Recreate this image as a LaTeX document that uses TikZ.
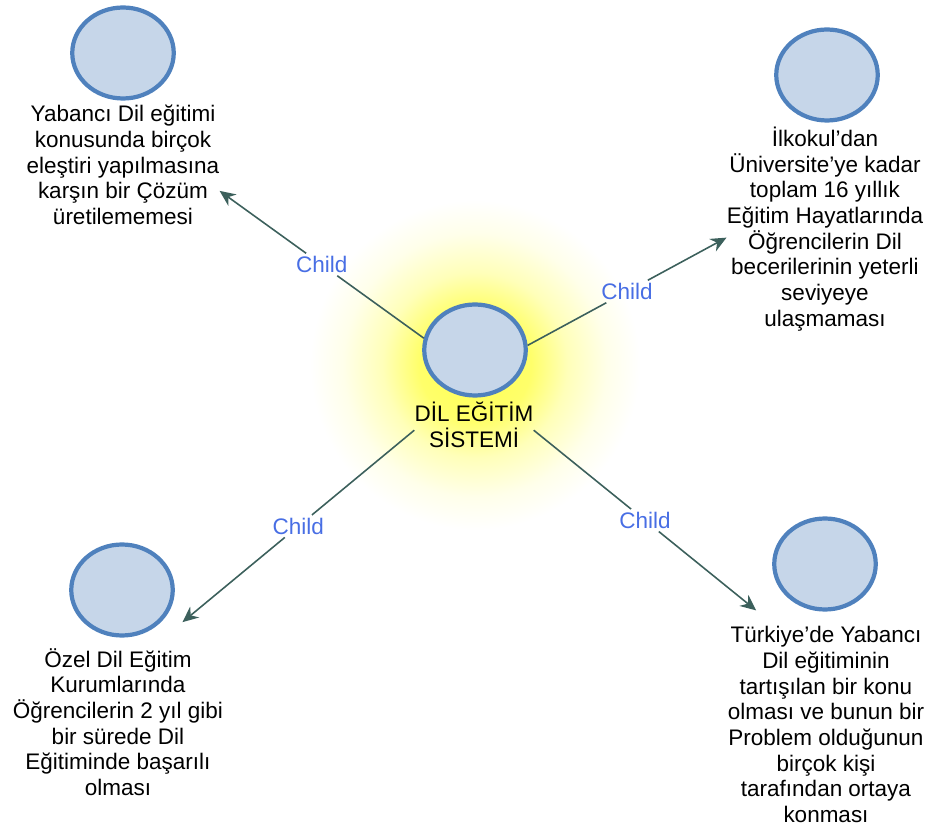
\documentclass[tikz,border=0pt]{standalone}
\usepackage{fontspec}
\setmainfont{Liberation Sans}
\usetikzlibrary{shapes.geometric,arrows.meta}

\definecolor{blobfill}{RGB}{198,214,233}
\definecolor{blobline}{RGB}{79,129,189}
\definecolor{linkcol}{RGB}{60,96,92}
\definecolor{childcol}{RGB}{72,110,228}
\definecolor{glowcol}{RGB}{255,255,80}

% soft yellow halo round the root (25bp = edge of the shaded circle)
\pgfdeclareradialshading{glow}{\pgfpoint{0bp}{0bp}}{%
  color(0bp)=(glowcol); color(8.5bp)=(glowcol!85!white); color(14bp)=(glowcol!40!white);
  color(20bp)=(glowcol!12!white); color(25bp)=(white); color(50bp)=(white)}

\begin{document}
\begin{tikzpicture}[
    blob/.style={ellipse,draw=blobline,fill=blobfill,line width=2.4pt,
                 minimum width=2.03cm,minimum height=1.82cm,inner sep=0pt,outer sep=0.38cm},
    txt/.style={align=center,font=\fontsize{12.8}{14.6}\selectfont,inner sep=0pt},
    lbl/.style={text=childcol,font=\fontsize{12.8}{14.6}\selectfont,inner sep=1.5pt},
    link/.style={draw=linkcol,line width=0.9pt},
    tip/.style={-{Stealth[length=9pt,width=8pt]}}]
  \useasboundingbox (0,0) rectangle (18.64,-16.52);

% root
  \shade[shading=glow] (9.5,-7.3) circle (3.3cm);
  \node[blob,outer sep=1.2pt] (c) at (9.5,-7.0) {};
  \node[txt] (cl) at (9.48,-8.5) {DİL EĞİTİM\\SİSTEMİ};

% children
  \node[blob] (tlc) at (2.46,-1.06) {};
  \node[txt] (tl) at (2.46,-3.3) {Yabancı Dil eğitimi\\konusunda birçok\\eleştiri yapılmasına\\karşın bir Çözüm\\üretilememesi};

  \node[blob] (trc) at (16.54,-1.5) {};
  \node[txt] (tr) at (16.5,-4.58) {İlkokul'dan\\Üniversite'ye kadar\\toplam 16 yıllık\\Eğitim Hayatlarında\\Öğrencilerin Dil\\becerilerinin yeterli\\seviyeye\\ulaşmaması};

  \node[blob] (blc) at (2.44,-11.8) {};
  \node[txt] (bl) at (2.36,-14.44) {Özel Dil Eğitim\\Kurumlarında\\Öğrencilerin 2 yıl gibi\\bir sürede Dil\\Eğitiminde başarılı\\olması};

  \node[blob,outer sep=0.68cm] (brc) at (16.5,-11.28) {};
  \node[txt] (br) at (16.52,-14.49) {Türkiye'de Yabancı\\Dil eğitiminin\\tartışılan bir konu\\olması ve bunun bir\\Problem olduğunun\\birçok kişi\\tarafından ortaya\\konması};

% links, broken where the label sits
  \path (c.167) -- node[lbl] (l1) {Child} (tl.-15);
  \draw[link] (c.167) -- (l1);
  \draw[link,tip] (l1) -- (tl.-15);

  \path (c.5) -- node[lbl] (l2) {Child} (tr.185);
  \draw[link] (c.5) -- (l2);
  \draw[link,tip] (l2) -- (tr.185);

  \path (cl.185) -- node[lbl] (l3) {Child} (blc.-28);
  \draw[link] (cl.185) -- (l3);
  \draw[link,tip] (l3) -- (blc.-28);

  \path (cl.-5) -- node[lbl] (l4) {Child} (brc.214);
  \draw[link] (cl.-5) -- (l4);
  \draw[link,tip] (l4) -- (brc.214);
\end{tikzpicture}
\end{document}
